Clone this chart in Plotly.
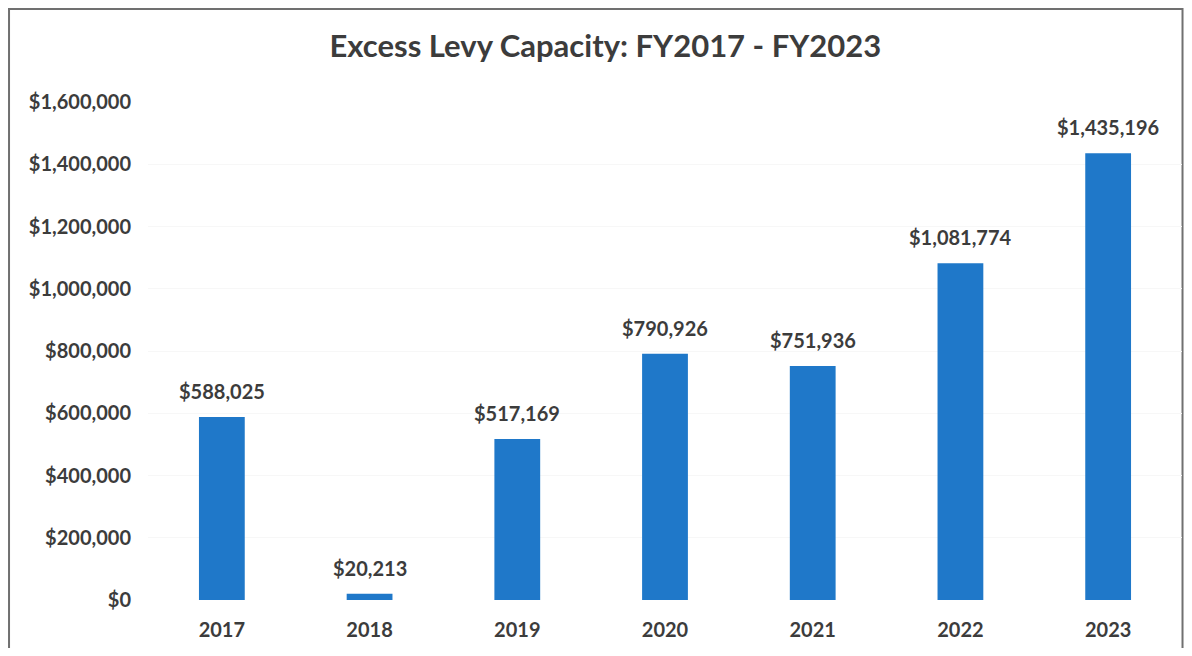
import plotly.graph_objects as go

years = ["2017", "2018", "2019", "2020", "2021", "2022", "2023"]
capacity = [588025, 20213, 517169, 790926, 751936, 1081774, 1435196]
tick_vals = [0, 200000, 400000, 600000, 800000, 1000000, 1200000, 1400000, 1600000]
tick_text = ["$0", "$200,000", "$400,000", "$600,000", "$800,000",
             "$1,000,000", "$1,200,000", "$1,400,000", "$1,600,000"]

FONT = "Lato, 'Open Sans', sans-serif"
TEXT = "#3c3c3c"

fig = go.Figure()
fig.add_trace(go.Bar(
    x=years, y=capacity,
    marker=dict(color="#1f78c9", line=dict(width=0)),
    width=0.31,
    hoverinfo="x+y",
))

# value labels above the bars (category axis: position by index)
for i, v in enumerate(capacity):
    fig.add_annotation(x=i, y=v, xref="x", yref="y",
                       text=f"<b>${v:,}</b>", showarrow=False,
                       yanchor="bottom", yshift=12,
                       font=dict(family=FONT, size=20, color=TEXT))

# chart border
fig.add_shape(type="rect", xref="paper", yref="paper",
              x0=-0.1344, x1=1.0005, y0=-0.3, y1=1.1867,
              line=dict(color="#707070", width=2), layer="below")

fig.update_layout(
    width=1176, height=640,
    margin=dict(l=140, r=2, t=94, b=48),
    paper_bgcolor="white", plot_bgcolor="white",
    showlegend=False,
    title=dict(text="<b>Excess Levy Capacity: FY2017 - FY2023</b>",
               x=0.508, xanchor="center", xref="container",
               y=0.9406, yanchor="middle",
               font=dict(family=FONT, size=31, color=TEXT)),
    xaxis=dict(type="category", showgrid=False, showline=False, ticks="",
               ticklabelstandoff=16,
               tickfont=dict(family=FONT, size=20, color=TEXT, weight="bold")),
    yaxis=dict(range=[0, 1600000], tickvals=tick_vals, ticktext=tick_text,
               showgrid=True, gridcolor="#f7f7f7", gridwidth=1,
               zeroline=False, showline=False, ticks="", ticklabelstandoff=16,
               tickfont=dict(family=FONT, size=20, color=TEXT, weight="bold")),
)

fig.write_html("out.html")
